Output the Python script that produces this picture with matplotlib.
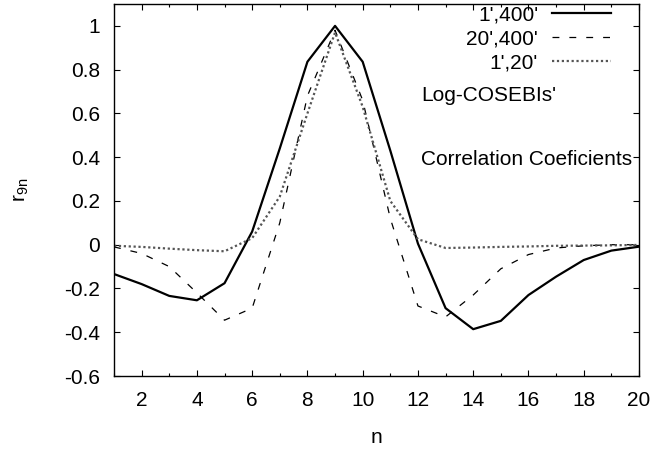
import numpy as np
import matplotlib
matplotlib.use("Agg")
import matplotlib.pyplot as plt
from matplotlib.legend import Legend
from matplotlib.ticker import MultipleLocator, FuncFormatter

plt.rcParams['font.family'] = ['Liberation Sans', 'DejaVu Sans']
plt.rcParams['axes.unicode_minus'] = False
plt.rcParams['mathtext.fontset'] = 'custom'
plt.rcParams['mathtext.rm'] = 'Liberation Sans'

FS = 15

# log-COSEBIs correlation coefficients r_9n
n = np.arange(1, 21)
r_1_400 = [-0.134, -0.18, -0.234, -0.254, -0.176, 0.06, 0.44, 0.836, 1.0, 0.836,
           0.43, 0.005, -0.29, -0.386, -0.348, -0.23, -0.146, -0.07, -0.027, -0.009]
r_20_400 = [-0.01, -0.04, -0.1, -0.22, -0.345, -0.29, 0.1, 0.68, 0.98, 0.66,
            0.12, -0.28, -0.33, -0.23, -0.11, -0.045, -0.015, -0.005, 0.0, 0.0]
r_1_20 = [-0.005, -0.01, -0.018, -0.025, -0.03, 0.03, 0.22, 0.6, 0.97, 0.63,
          0.2, 0.025, -0.015, -0.013, -0.01, -0.008, -0.005, -0.004, -0.003, -0.001]
labels = ["1',400'", "20',400'", "1',20'"]

fig = plt.figure(figsize=(6.57, 4.5), dpi=100)
ax = fig.add_axes([114 / 657, 1 - 376 / 450, 525 / 657, 372 / 450])

l1, = ax.plot(n, r_1_400, color='black', lw=1.6)
l2, = ax.plot(n, r_20_400, color='black', lw=0.9, dashes=(5.5, 8))
l3, = ax.plot(n, r_1_20, color='#555555', lw=1.6, dashes=(1.0, 1.2))

ax.set_xlim(1, 20)
ax.set_ylim(-0.6, 1.1)
ax.xaxis.set_major_locator(MultipleLocator(2))
ax.xaxis.set_minor_locator(MultipleLocator(1))
ax.yaxis.set_major_locator(MultipleLocator(0.2))
ax.yaxis.set_major_formatter(FuncFormatter(lambda v, p: f'{v:g}' if abs(v) > 1e-9 else '0'))
ax.tick_params(which='both', direction='in', top=True, right=True, labelsize=FS, width=0.8)
ax.tick_params(which='major', length=4)
ax.tick_params(which='minor', length=2)
ax.tick_params(axis='x', pad=11)
ax.tick_params(axis='y', pad=10)
for s in ax.spines.values():
    s.set_linewidth(1.0)

ax.set_xlabel('n', fontsize=FS, labelpad=13)
ax.set_ylabel(r'$\mathregular{r_{9n}}$', fontsize=FS, labelpad=24)

# one legend per curve so the labels line up on the right, next to their keys
for line, lab, yc in zip([l1, l2, l3], labels, [0.970, 0.906, 0.841]):
    leg = Legend(ax, [line], [lab], loc='center right', bbox_to_anchor=(0.9467, yc),
                 frameon=False, markerfirst=False, fontsize=FS, handlelength=2.83,
                 handletextpad=0.67, borderpad=0, borderaxespad=0)
    ax.add_artist(leg)

ax.text(0.585, 0.755, "Log-COSEBIs'", transform=ax.transAxes, fontsize=FS, va='center')
ax.text(0.585, 0.581, "Correlation Coeficients", transform=ax.transAxes, fontsize=FS, va='center')

fig.savefig('out.png', dpi=100)
